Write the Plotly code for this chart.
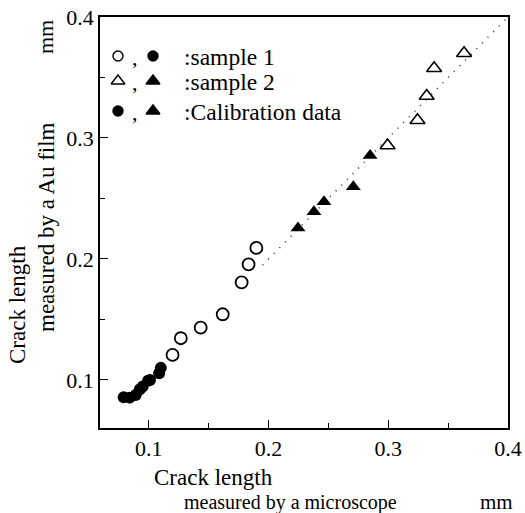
import plotly.graph_objects as go

# ---- data (mm) ----
s1_open_x = [0.1198, 0.1267, 0.1433, 0.1617, 0.1775, 0.1833, 0.1898]
s1_open_y = [0.1207, 0.1345, 0.1432, 0.1543, 0.1806, 0.1956, 0.2091]

s1_cal_x = [0.079, 0.084, 0.089, 0.0925, 0.0948, 0.0994, 0.101, 0.1086, 0.110]
s1_cal_y = [0.0857, 0.0854, 0.0876, 0.0923, 0.0945, 0.0994, 0.100, 0.1055, 0.110]

s2_open_x = [0.2994, 0.3244, 0.3321, 0.3383, 0.3633]
s2_open_y = [0.2938, 0.3146, 0.3347, 0.3576, 0.3700]

s2_cal_x = [0.2246, 0.2379, 0.2463, 0.2708, 0.2848]
s2_cal_y = [0.2256, 0.2391, 0.2474, 0.2598, 0.2855]

ref_line = [0.195, 0.40]

x_ticks = [0.1, 0.2, 0.3, 0.4]
y_ticks = [0.1, 0.2, 0.3, 0.4]
minor_ticks = [0.15, 0.25, 0.35]

FONT = "Liberation Serif"
BLACK = "black"

L, R, T, B = 100, 17, 17, 85
W, H = 525, 513
PW, PH = W - L - R, H - T - B


def px(xp):
    return (xp - L) / PW


def py(yp):
    return (H - B - yp) / PH


fig = go.Figure()

fig.add_trace(go.Scatter(x=ref_line, y=ref_line, mode="lines",
                         line=dict(color="#333", width=1.6, dash="1px,7px"),
                         hoverinfo="skip"))
fig.add_trace(go.Scatter(x=s1_open_x, y=s1_open_y, mode="markers",
                         marker=dict(symbol="circle-open", size=12, color=BLACK,
                                     line=dict(width=1.8, color=BLACK))))
fig.add_trace(go.Scatter(x=s1_cal_x, y=s1_cal_y, mode="markers",
                         marker=dict(symbol="circle", size=12, color=BLACK)))
fig.add_trace(go.Scatter(x=s2_open_x, y=s2_open_y, mode="markers",
                         marker=dict(symbol="triangle-up-open", size=13, color=BLACK,
                                     line=dict(width=1.6, color=BLACK))))
fig.add_trace(go.Scatter(x=s2_cal_x, y=s2_cal_y, mode="markers",
                         marker=dict(symbol="triangle-up", size=13, color=BLACK)))

# ---- custom legend on an overlay axis measured in pixels ----
leg_x1, leg_x2 = 118, 153
leg_rows = [56, 81, 111]
leg_sym1 = ["circle-open", "triangle-up-open", "circle"]
leg_sym2 = ["circle", "triangle-up", "triangle-up"]
leg_size = {"circle-open": 10, "circle": 10, "triangle-up-open": 12, "triangle-up": 12}
leg_text = [":sample 1", ":sample 2", ":Calibration data"]

for sym, xx in [(leg_sym1, leg_x1), (leg_sym2, leg_x2)]:
    fig.add_trace(go.Scatter(
        x=[xx] * 3, y=leg_rows, mode="markers", xaxis="x2", yaxis="y2", opacity=1,
        marker=dict(symbol=sym, size=[leg_size[s] for s in sym], color=BLACK, opacity=1,
                    line=dict(width=1.4, color=BLACK)),
        hoverinfo="skip"))

annotations = []
for yy, txt in zip(leg_rows, leg_text):
    annotations.append(dict(x=px(182), y=py(yy + 1), xref="paper", yref="paper", text=txt,
                            showarrow=False, xanchor="left", yanchor="middle",
                            font=dict(family=FONT, size=23.5, color=BLACK)))
    annotations.append(dict(x=px(135), y=py(yy + 1), xref="paper", yref="paper", text=",",
                            showarrow=False, xanchor="center", yanchor="middle",
                            font=dict(family=FONT, size=22, color=BLACK)))

annotations += [
    dict(x=px(213), y=py(477), text="Crack length", textangle=0,
         font=dict(family=FONT, size=23, color=BLACK)),
    dict(x=px(290), y=py(502), text="measured by a microscope", textangle=0,
         font=dict(family=FONT, size=20, color=BLACK)),
    dict(x=px(496), y=py(502), text="mm", textangle=0,
         font=dict(family=FONT, size=21, color=BLACK)),
    dict(x=px(17), y=py(305), text="Crack length", textangle=-90,
         font=dict(family=FONT, size=23, color=BLACK)),
    dict(x=px(46), y=py(227), text="measured by a Au film", textangle=-90,
         font=dict(family=FONT, size=23, color=BLACK)),
    dict(x=px(45), y=py(37), text="mm", textangle=-90,
         font=dict(family=FONT, size=22, color=BLACK)),
]
for a in annotations[-6:]:
    a.update(xref="paper", yref="paper", showarrow=False, xanchor="center", yanchor="middle")

fig.update_layout(
    width=W, height=H,
    margin=dict(l=L, r=R, t=T, b=B, autoexpand=False),
    paper_bgcolor="white", plot_bgcolor="white",
    showlegend=False,
    annotations=annotations,
    xaxis=dict(range=[0.0592, 0.4], tickvals=x_ticks, ticktext=[f"{v:.1f}" for v in x_ticks],
               ticks="inside", ticklen=8, tickwidth=1.2, tickcolor=BLACK,
               minor=dict(tickvals=minor_ticks, ticks="inside", ticklen=5, tickwidth=1.2,
                          tickcolor=BLACK),
               showline=True, linecolor=BLACK, linewidth=1.5, mirror=True,
               showgrid=False, zeroline=False, automargin=False,
               tickfont=dict(family=FONT, size=22, color=BLACK)),
    yaxis=dict(range=[0.0603, 0.4], tickvals=y_ticks, ticktext=[f"{v:.1f}" for v in y_ticks],
               ticks="inside", ticklen=8, tickwidth=1.2, tickcolor=BLACK,
               minor=dict(tickvals=minor_ticks, ticks="inside", ticklen=5, tickwidth=1.2,
                          tickcolor=BLACK),
               showline=True, linecolor=BLACK, linewidth=1.5, mirror=True,
               showgrid=False, zeroline=False, automargin=False,
               tickfont=dict(family=FONT, size=22, color=BLACK)),
    xaxis2=dict(overlaying="x", range=[L, W - R], visible=False, fixedrange=True,
                automargin=False),
    yaxis2=dict(overlaying="y", range=[H - B, T], visible=False, fixedrange=True,
                automargin=False),
)

fig.write_html("out.html")
